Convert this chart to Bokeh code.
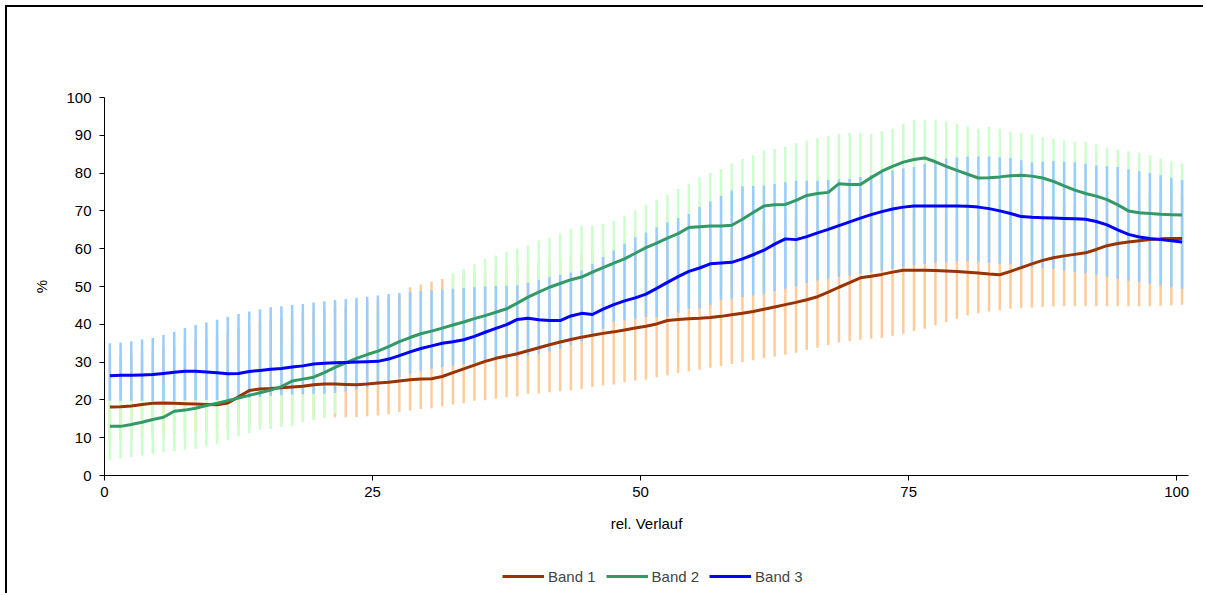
from bokeh.plotting import figure
from bokeh.models import Range1d, FixedTicker, Legend, LegendItem, Div
from bokeh.layouts import column, row
from bokeh.embed import file_html
from bokeh.resources import INLINE

# relative position 0..100 (points sit in the middle of each step)
rel = list(range(101))
xpos = [r + 0.5 for r in rel]

band1 = [18.1, 18.2, 18.4, 18.8, 19.1, 19.2, 19.1, 19.0, 18.9, 18.8,
         18.7, 19.2, 20.8, 22.5, 22.9, 23.0, 23.2, 23.4, 23.6, 24.0,
         24.2, 24.2, 24.1, 24.0, 24.2, 24.5, 24.7, 25.0, 25.3, 25.5,
         25.6, 26.2, 27.2, 28.2, 29.2, 30.2, 31.0, 31.6, 32.2, 33.0,
         33.8, 34.6, 35.3, 36.0, 36.6, 37.1, 37.6, 38.0, 38.5, 39.0,
         39.5, 40.1, 41.0, 41.3, 41.5, 41.6, 41.8, 42.1, 42.5, 42.9,
         43.4, 44.0, 44.6, 45.2, 45.8, 46.5, 47.3, 48.5, 49.8, 51.0,
         52.3, 52.7, 53.2, 53.8, 54.3, 54.3, 54.3, 54.2, 54.1, 54.0,
         53.8, 53.6, 53.3, 53.1, 54.0, 55.0, 56.0, 56.9, 57.6, 58.1,
         58.5, 58.9, 59.8, 60.8, 61.4, 61.8, 62.1, 62.4, 62.6, 62.7, 62.7]
band2 = [13.0, 13.0, 13.5, 14.1, 14.8, 15.4, 17.0, 17.3, 17.8, 18.5,
         19.1, 19.8, 20.5, 21.2, 21.9, 22.6, 23.5, 25.0, 25.5, 26.0,
         27.2, 28.6, 29.8, 31.0, 32.0, 32.9, 34.1, 35.4, 36.5, 37.5,
         38.2, 39.0, 39.8, 40.6, 41.5, 42.3, 43.2, 44.1, 45.6, 47.2,
         48.5, 49.8, 50.8, 51.8, 52.5, 53.8, 55.0, 56.2, 57.3, 58.8,
         60.3, 61.5, 62.8, 64.0, 65.6, 65.8, 66.0, 66.0, 66.2, 67.8,
         69.6, 71.3, 71.6, 71.7, 72.8, 74.1, 74.6, 74.9, 77.2, 77.0,
         77.0, 78.8, 80.5, 81.8, 82.9, 83.6, 84.0, 83.0, 81.8, 80.7,
         79.7, 78.7, 78.8, 79.0, 79.3, 79.4, 79.2, 78.7, 77.8, 76.6,
         75.5, 74.6, 73.9, 73.0, 71.6, 70.0, 69.5, 69.3, 69.1, 69.0, 68.9]
band3 = [26.4, 26.5, 26.5, 26.6, 26.7, 27.0, 27.3, 27.6, 27.6, 27.4,
         27.2, 26.9, 27.0, 27.5, 27.8, 28.1, 28.3, 28.7, 29.0, 29.5,
         29.7, 29.8, 29.9, 30.0, 30.1, 30.2, 30.8, 31.7, 32.7, 33.6,
         34.3, 35.0, 35.4, 35.9, 36.8, 37.9, 38.9, 39.9, 41.3, 41.6,
         41.2, 41.0, 41.0, 42.2, 42.9, 42.6, 44.0, 45.2, 46.2, 47.0,
         48.0, 49.5, 51.1, 52.6, 54.0, 54.9, 56.0, 56.2, 56.4, 57.3,
         58.4, 59.6, 61.2, 62.6, 62.4, 63.2, 64.2, 65.1, 66.1, 67.1,
         68.1, 69.0, 69.8, 70.5, 71.0, 71.3, 71.3, 71.3, 71.3, 71.3,
         71.2, 71.0, 70.6, 70.0, 69.3, 68.5, 68.3, 68.2, 68.1, 68.0,
         67.9, 67.8, 67.2, 66.3, 65.0, 63.8, 63.1, 62.7, 62.4, 62.1, 61.8]

band1_lo = [9.0, 9.3, 9.6, 10.0, 10.3, 10.6, 10.9, 11.2, 11.5, 11.8,
            12.1, 12.4, 12.7, 13.0, 13.3, 13.6, 13.9, 14.2, 14.5, 14.9,
            15.4, 15.4, 15.4, 15.5, 15.7, 15.9, 16.2, 16.8, 17.2, 17.6,
            17.8, 18.3, 18.8, 19.1, 19.8, 19.9, 20.3, 20.7, 20.9, 21.6,
            21.7, 22.0, 22.3, 22.5, 22.9, 23.4, 23.8, 24.1, 24.7, 25.1,
            25.3, 26.0, 26.5, 27.1, 27.6, 28.0, 28.5, 29.0, 29.5, 30.0,
            30.5, 31.0, 31.5, 32.0, 32.5, 33.2, 33.8, 34.5, 35.2, 35.6,
            35.9, 36.2, 36.4, 37.0, 37.5, 38.2, 38.8, 39.7, 40.6, 41.5,
            42.3, 42.9, 43.4, 43.7, 44.1, 44.3, 44.4, 44.6, 44.7, 44.8,
            44.8, 44.8, 44.8, 44.8, 44.8, 44.8, 44.8, 44.8, 44.9, 45.0, 45.2]
band1_hi = [31.5, 31.8, 32.2, 32.6, 33.0, 33.6, 34.2, 35.0, 35.8, 36.6,
            37.4, 38.2, 39.0, 39.8, 40.5, 41.2, 41.8, 42.4, 43.0, 43.5,
            44.0, 44.5, 45.0, 45.5, 46.0, 46.5, 47.0, 47.6, 49.8, 50.5,
            51.3, 52.0, 52.6, 53.2, 53.5, 54.0, 54.5, 55.0, 55.5, 56.0,
            56.5, 57.0, 57.5, 58.0, 58.5, 59.0, 59.5, 60.0, 60.5, 61.0,
            61.5, 62.0, 62.5, 63.0, 63.5, 64.0, 64.5, 65.0, 65.5, 66.0,
            66.5, 67.0, 67.5, 68.0, 68.5, 69.0, 69.5, 70.0, 70.3, 70.5,
            70.6, 70.7, 70.8, 70.8, 70.6, 70.4, 70.2, 70.0, 69.8, 69.6,
            69.4, 69.3, 69.3, 69.5, 69.8, 70.2, 70.6, 71.0, 71.3, 71.6,
            72.0, 72.4, 72.8, 73.2, 73.6, 74.0, 74.2, 74.4, 74.5, 74.6, 74.6]
band2_lo = [4.0, 4.4, 4.9, 5.3, 5.7, 6.2, 6.4, 6.8, 7.1, 7.7,
            8.4, 9.4, 10.3, 11.2, 12.1, 12.3, 12.8, 13.0, 14.1, 14.7,
            15.3, 16.5, 23.7, 24.2, 24.8, 25.5, 26.5, 27.5, 28.3, 29.1,
            29.8, 30.2, 30.5, 30.9, 31.2, 31.5, 31.9, 32.3, 32.8, 33.2,
            33.7, 34.3, 35.0, 36.0, 37.0, 38.5, 40.3, 42.1, 42.5, 43.0,
            43.4, 43.4, 43.5, 44.5, 45.6, 45.6, 46.7, 48.0, 48.2, 48.7,
            49.1, 49.5, 50.3, 50.9, 51.5, 52.4, 53.1, 53.5, 54.0, 54.4,
            54.9, 55.3, 55.7, 56.2, 56.6, 57.1, 57.5, 57.8, 57.9, 58.2,
            58.2, 58.0, 57.7, 57.5, 57.3, 56.9, 56.6, 56.4, 56.2, 55.7,
            55.3, 55.0, 54.7, 54.1, 53.5, 53.0, 52.6, 52.2, 51.8, 51.3, 50.9]
band2_hi = [22.0, 22.2, 22.5, 23.0, 23.8, 24.6, 26.0, 27.0, 28.0, 29.0,
            29.8, 30.5, 31.3, 32.0, 32.8, 33.6, 34.5, 35.5, 36.5, 37.5,
            38.5, 39.5, 40.5, 41.5, 42.5, 43.5, 44.5, 45.5, 46.5, 47.5,
            48.5, 49.0, 53.5, 54.6, 55.8, 57.3, 58.2, 59.1, 60.0, 61.0,
            62.2, 62.9, 64.1, 65.3, 66.1, 66.1, 66.6, 67.3, 68.5, 70.1,
            71.7, 72.8, 74.3, 75.8, 77.1, 78.9, 80.0, 81.1, 82.6, 83.7,
            84.7, 86.0, 86.4, 87.0, 87.9, 88.6, 89.3, 89.9, 90.4, 90.6,
            90.6, 90.4, 91.1, 91.7, 93.0, 94.1, 94.0, 94.1, 93.7, 93.0,
            92.3, 91.7, 92.2, 91.7, 91.0, 90.6, 90.2, 89.5, 89.1, 88.6,
            88.2, 88.2, 87.6, 86.7, 86.2, 85.8, 85.4, 84.7, 83.8, 83.2, 82.6]
band3_lo = [19.8, 19.8, 19.8, 19.8, 19.8, 19.8, 19.8, 19.9, 19.9, 20.0,
            20.0, 20.2, 20.4, 20.6, 20.8, 21.0, 21.2, 21.4, 21.5, 21.6,
            21.6, 21.8, 22.2, 22.7, 23.3, 24.0, 25.0, 26.0, 26.8, 27.6,
            28.3, 28.7, 29.0, 29.4, 29.7, 30.0, 30.4, 30.8, 31.3, 31.7,
            32.2, 32.8, 33.5, 34.5, 35.5, 37.0, 38.8, 40.6, 41.0, 41.5,
            41.9, 41.9, 42.0, 43.0, 44.1, 44.1, 45.2, 46.5, 46.7, 47.2,
            47.6, 48.0, 48.8, 49.4, 50.0, 50.9, 51.6, 52.0, 52.5, 52.9,
            53.4, 53.8, 54.2, 54.7, 55.1, 55.6, 56.0, 56.3, 56.4, 56.7,
            56.7, 56.5, 56.2, 56.0, 55.8, 55.4, 55.1, 54.9, 54.7, 54.2,
            53.8, 53.5, 53.2, 52.6, 52.0, 51.5, 51.1, 50.7, 50.3, 49.8, 49.4]
band3_hi = [35.0, 35.2, 35.5, 36.0, 36.4, 37.2, 38.0, 39.0, 39.8, 40.5,
            41.2, 42.0, 42.7, 43.4, 44.0, 44.5, 44.8, 45.1, 45.4, 45.8,
            46.1, 46.4, 46.7, 47.0, 47.3, 47.6, 48.0, 48.3, 48.6, 48.8,
            49.0, 49.2, 49.4, 49.6, 49.8, 50.0, 50.1, 50.2, 50.3, 51.0,
            51.8, 52.5, 53.1, 53.7, 54.2, 56.0, 57.8, 59.5, 61.3, 63.0,
            64.3, 65.7, 67.0, 68.1, 69.2, 71.0, 72.5, 74.0, 75.4, 76.5,
            76.6, 76.7, 77.1, 77.6, 78.0, 78.0, 78.0, 78.2, 78.4, 78.5,
            79.0, 79.4, 80.0, 80.7, 81.2, 81.6, 82.5, 83.3, 83.8, 84.1,
            84.4, 84.4, 84.4, 84.2, 84.0, 83.4, 82.9, 83.0, 83.2, 83.0,
            82.9, 82.5, 82.0, 81.8, 81.6, 81.0, 80.5, 80.0, 79.4, 78.8, 78.2]

x_ticks = [0, 25, 50, 75, 100]
y_ticks = [0, 10, 20, 30, 40, 50, 60, 70, 80, 90, 100]
names = ["Band 1", "Band 2", "Band 3"]
line_colors = ["#993300", "#339966", "#0000FF"]
bar_colors = ["#FFCC99", "#CCFFCC", "#99CCFF"]

FONT = "Liberation Sans"
FS = "15px"

p = figure(width=1196, height=548, x_range=Range1d(0, 101.1), y_range=Range1d(0, 100),
           output_backend="svg", toolbar_location=None,
           min_border_left=97, min_border_right=15, min_border_top=90, min_border_bottom=80)
p.outline_line_color = None
p.xgrid.visible = False
p.ygrid.visible = False
p.background_fill_color = "white"
p.border_fill_color = "white"

# whiskers: band 1 first, band 3 on top
p.segment(x0=xpos, y0=band1_lo, x1=xpos, y1=band1_hi, line_color=bar_colors[0], line_width=2.5)
p.segment(x0=xpos, y0=band2_lo, x1=xpos, y1=band2_hi, line_color=bar_colors[1], line_width=2.5)
p.segment(x0=xpos, y0=band3_lo, x1=xpos, y1=band3_hi, line_color=bar_colors[2], line_width=2.5)

p.line(xpos, band1, line_color=line_colors[0], line_width=3)
p.line(xpos, band2, line_color=line_colors[1], line_width=3)
p.line(xpos, band3, line_color=line_colors[2], line_width=3)

for ax in (p.xaxis[0], p.yaxis[0]):
    ax.axis_line_color = "black"
    ax.major_tick_line_color = "black"
    ax.minor_tick_line_color = None
    ax.major_tick_out = 5
    ax.major_tick_in = 0
    ax.major_label_text_font = FONT
    ax.major_label_text_font_size = FS
    ax.major_label_text_color = "black"
    ax.axis_label_text_font = FONT
    ax.axis_label_text_font_size = FS
    ax.axis_label_text_font_style = "normal"
    ax.axis_label_text_color = "black"

p.xaxis.ticker = FixedTicker(ticks=x_ticks)
p.yaxis.ticker = FixedTicker(ticks=y_ticks)
p.xaxis.axis_label = "rel. Verlauf"
p.yaxis.axis_label = "%"
p.xaxis.axis_label_standoff = 15
p.yaxis.axis_label_standoff = 13
p.xaxis.major_label_standoff = 6
p.yaxis.major_label_standoff = 8

# legend strip below the chart
pl = figure(width=1196, height=38, x_range=Range1d(0, 1), y_range=Range1d(500, 501),
            output_backend="svg", toolbar_location=None, min_border=0,
            x_axis_location=None, y_axis_location=None)
pl.outline_line_color = None
pl.xgrid.visible = False
pl.ygrid.visible = False
pl.border_fill_color = "white"
k1 = pl.line(xpos, band1, line_color=line_colors[0], line_width=3)
k2 = pl.line(xpos, band2, line_color=line_colors[1], line_width=3)
k3 = pl.line(xpos, band3, line_color=line_colors[2], line_width=3)
legend = Legend(items=[LegendItem(label=names[0], renderers=[k1]),
                       LegendItem(label=names[1], renderers=[k2]),
                       LegendItem(label=names[2], renderers=[k3])],
                orientation="horizontal", location=(398, 7),
                glyph_width=42, glyph_height=20, label_height=20, label_standoff=4, spacing=10,
                padding=0, margin=0, border_line_color=None, background_fill_alpha=0,
                label_text_font=FONT, label_text_font_size=FS)
pl.add_layout(legend, "center")

# chart frame: left and top edges
edge_left = Div(width=2, height=588, margin=0, styles={"background-color": "#000000"})
edge_top = Div(width=1196, height=2, margin=0, styles={"background-color": "#000000"})

layout = row(edge_left, column(edge_top, p, pl, spacing=0), spacing=0)
layout.margin = (5, 0, 0, 5)
open("out.html", "w").write(file_html(layout, INLINE))
